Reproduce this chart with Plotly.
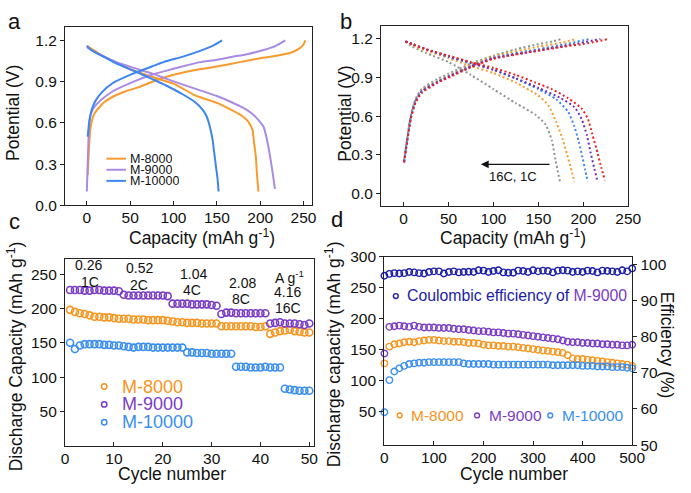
import plotly.graph_objects as go

W, H = 691, 493
FONT = "Liberation Sans, Arial, sans-serif"

# ---------------- Panel a data ----------------
a8000_chg_x = [1, 2, 3, 4, 6, 9, 14, 20, 30, 45, 60, 80, 100, 125, 150, 175, 200, 220, 235, 245, 250, 252]
a8000_chg_y = [0.22, 0.35, 0.47, 0.55, 0.62, 0.67, 0.71, 0.75, 0.79, 0.83, 0.86, 0.91, 0.95, 0.985, 1.01, 1.04, 1.07, 1.09, 1.11, 1.14, 1.17, 1.20]
a8000_dis_x = [0, 5, 15, 30, 50, 75, 100, 125, 150, 165, 178, 186, 191, 193, 195, 196, 197, 198]
a8000_dis_y = [1.16, 1.14, 1.10, 1.05, 0.99, 0.935, 0.885, 0.80, 0.745, 0.70, 0.655, 0.61, 0.55, 0.45, 0.35, 0.25, 0.17, 0.10]
a9000_chg_x = [0, 1, 2, 3, 5, 8, 12, 17, 30, 54, 75, 92, 110, 129, 150, 167, 185, 204, 218, 229]
a9000_chg_y = [0.10, 0.30, 0.50, 0.60, 0.67, 0.71, 0.74, 0.77, 0.83, 0.90, 0.95, 0.98, 1.01, 1.04, 1.06, 1.08, 1.10, 1.13, 1.16, 1.20]
a9000_dis_x = [0, 5, 17, 35, 54, 75, 92, 110, 129, 150, 167, 180, 190, 198, 204, 208, 211, 214, 217]
a9000_dis_y = [1.15, 1.13, 1.09, 1.04, 1.00, 0.96, 0.92, 0.88, 0.84, 0.795, 0.75, 0.71, 0.67, 0.62, 0.57, 0.47, 0.37, 0.25, 0.12]
a10000_chg_x = [1, 3, 5, 7, 10, 17, 30, 54, 75, 92, 110, 129, 145, 156]
a10000_chg_y = [0.50, 0.62, 0.68, 0.72, 0.76, 0.82, 0.89, 0.96, 1.01, 1.05, 1.08, 1.12, 1.16, 1.20]
a10000_dis_x = [0, 5, 17, 35, 54, 75, 92, 110, 125, 133, 138, 142, 145, 147, 149, 151, 152]
a10000_dis_y = [1.16, 1.13, 1.09, 1.03, 0.98, 0.92, 0.87, 0.81, 0.75, 0.70, 0.65, 0.57, 0.48, 0.38, 0.28, 0.18, 0.10]

# ---------------- Panel b data (rates 1C..16C) ----------------
b_red_chg_x = [0.5, 4, 8, 13, 20, 38, 50, 75, 100, 147, 183, 200, 228]
b_red_chg_y = [0.24, 0.41, 0.58, 0.70, 0.78, 0.86, 0.90, 0.98, 1.045, 1.105, 1.145, 1.16, 1.20]
b_red_dis_x = [2, 10, 25, 50, 75, 100, 125, 147, 165, 183, 198, 205, 210, 216, 220, 224]
b_red_dis_y = [1.18, 1.16, 1.12, 1.07, 1.02, 0.975, 0.92, 0.86, 0.81, 0.74, 0.66, 0.58, 0.46, 0.31, 0.20, 0.10]
b_pur_chg_x = [0.5, 4, 8, 13, 20, 38, 50, 75, 100, 150, 190, 219]
b_pur_chg_y = [0.24, 0.41, 0.585, 0.71, 0.79, 0.865, 0.905, 0.985, 1.05, 1.11, 1.16, 1.20]
b_pur_dis_x = [2, 10, 25, 50, 75, 100, 125, 150, 175, 190, 198, 204, 208, 212, 216]
b_pur_dis_y = [1.18, 1.16, 1.12, 1.065, 1.015, 0.96, 0.895, 0.82, 0.74, 0.67, 0.58, 0.45, 0.32, 0.20, 0.09]
b_blu_chg_x = [0.5, 4, 8, 13, 20, 38, 50, 75, 100, 150, 180, 207]
b_blu_chg_y = [0.25, 0.42, 0.59, 0.715, 0.795, 0.87, 0.91, 0.99, 1.055, 1.12, 1.16, 1.20]
b_blu_dis_x = [2, 10, 25, 50, 75, 100, 125, 150, 170, 183, 190, 195, 199, 202, 205]
b_blu_dis_y = [1.18, 1.16, 1.12, 1.06, 1.01, 0.96, 0.89, 0.81, 0.73, 0.635, 0.52, 0.40, 0.28, 0.18, 0.09]
b_ora_chg_x = [0.5, 4, 8, 13, 20, 38, 50, 75, 100, 150, 175, 192]
b_ora_chg_y = [0.25, 0.42, 0.60, 0.72, 0.80, 0.875, 0.915, 1.0, 1.065, 1.14, 1.17, 1.20]
b_ora_dis_x = [2, 10, 25, 50, 75, 100, 125, 150, 161, 170, 177, 182, 186, 190]
b_ora_dis_y = [1.18, 1.15, 1.11, 1.05, 0.99, 0.935, 0.86, 0.76, 0.685, 0.55, 0.42, 0.30, 0.20, 0.09]
b_gry_chg_x = [0.5, 4, 8, 13, 20, 38, 50, 75, 100, 125, 150, 165, 176]
b_gry_chg_y = [0.26, 0.43, 0.61, 0.73, 0.81, 0.89, 0.93, 1.01, 1.07, 1.12, 1.16, 1.18, 1.20]
b_gry_dis_x = [2, 10, 25, 50, 75, 100, 125, 147, 158, 165, 169, 174]
b_gry_dis_y = [1.18, 1.14, 1.09, 1.02, 0.92, 0.81, 0.70, 0.61, 0.535, 0.41, 0.26, 0.09]

# ---------------- Panel c data ----------------
c_cycles = list(range(1, 51))
c_m8000 = [198, 195, 193, 192, 190, 188, 188, 187, 187, 186, 185,
           185, 185, 184, 184, 184, 183, 183, 183, 183, 182,
           181, 180, 180, 179, 179, 179, 178, 178, 178, 178,
           174, 174, 174, 174, 174, 174, 174, 173, 173, 174,
           163, 165, 167, 168, 169, 167, 166, 165, 165]
c_m9000 = [227, 227, 227, 226, 226, 227, 227, 226, 226, 226, 225,
           220, 219, 219, 219, 219, 219, 219, 219, 219, 218,
           207, 207, 207, 207, 206, 206, 206, 206, 205, 204,
           192, 194, 194, 193, 193, 193, 193, 193, 193, 193,
           178, 179, 180, 178, 178, 178, 177, 176, 178]
c_m10000 = [150, 141, 146, 148, 148, 148, 148, 147, 147, 146, 146,
            145, 144, 143, 144, 144, 144, 143, 143, 143, 143,
            143, 143, 143, 136, 136, 135, 135, 135, 134, 134,
            134, 134, 134, 115, 115, 115, 114, 114, 114, 115,
            114, 114, 114, 83, 82, 81, 80, 80, 80]
c_rate_top = ["0.26", "0.52", "1.04", "2.08", "A g<sup>-1</sup>"]
c_rate_mid = ["1C", "2C", "4C", "8C", "4.16"]
c_rate_extra = ["16C"]

# ---------------- Panel d data ----------------
d_cycles = list(range(0, 501, 10))
d_ce = [96.8, 97.3, 97.5, 97.4, 97.5, 97.8, 97.7, 97.5, 97.4, 97.8, 98.0, 98.0, 97.4, 97.8, 98.0, 97.7,
        97.8, 97.9, 97.8, 98.3, 98.2, 97.8, 98.1, 98.3, 97.7, 97.6, 97.6, 98.2, 98.1, 97.8, 98.3, 98.0,
        98.2, 98.1, 97.7, 98.2, 98.3, 98.2, 97.8, 98.0, 97.8, 98.2, 98.1, 97.7, 98.2, 98.1, 98.0, 97.8,
        98.3, 98.0, 98.8]
d_m9000 = [144, 187, 188, 189, 188, 187, 189, 187, 186, 186, 186, 185, 185, 185, 184, 183, 183, 182,
           181, 180, 180, 179, 178, 178, 177, 176, 176, 175, 174, 173, 172, 171, 170, 169, 168, 167,
           165, 163, 162, 162, 161, 161, 160, 160, 159, 159, 158, 158, 157, 157, 158]
d_m8000 = [128, 155, 159, 160, 162, 163, 162, 164, 165, 166, 166, 165, 164, 164, 163, 163, 162, 161,
           161, 160, 158, 157, 157, 156, 156, 155, 155, 154, 153, 152, 151, 150, 149, 148, 147, 146,
           145, 141, 136, 135, 135, 134, 133, 132, 131, 130, 129, 128, 127, 126, 124]
d_m10000 = [49, 101, 115, 120, 124, 127, 128, 129, 129, 130, 130, 130, 130, 130, 130, 130, 128, 127,
            127, 127, 127, 127, 126, 126, 126, 126, 126, 126, 126, 126, 126, 126, 126, 126, 125, 125,
            125, 125, 125, 125, 124, 124, 124, 123, 123, 123, 122, 122, 122, 121, 120]

# colours
ORA, PUR_L, BLU = "#F89A2C", "#A98BE3", "#3D86F2"
RED, PUR_D, GRY = "#E8231F", "#6B2FBF", "#8C9494"
C_ORA, C_PUR, C_BLU = "#F7941D", "#7A3CC6", "#3A8EF0"
CE_COL = "#1C1CAA"

def px(x):
    return x / W

def py(y):
    return 1 - y / H

fig = go.Figure()

# panel a
for xs, ys, col in [(a8000_chg_x, a8000_chg_y, ORA), (a8000_dis_x, a8000_dis_y, ORA),
                    (a9000_chg_x, a9000_chg_y, PUR_L), (a9000_dis_x, a9000_dis_y, PUR_L),
                    (a10000_chg_x, a10000_chg_y, BLU), (a10000_dis_x, a10000_dis_y, BLU)]:
    fig.add_trace(go.Scatter(x=xs, y=ys, mode="lines", line=dict(color=col, width=2, shape="spline", smoothing=0.6),
                             xaxis="x", yaxis="y", showlegend=False, hoverinfo="skip"))

# panel b
for xs, ys, col in [(b_gry_chg_x, b_gry_chg_y, GRY), (b_gry_dis_x, b_gry_dis_y, GRY),
                    (b_ora_chg_x, b_ora_chg_y, ORA), (b_ora_dis_x, b_ora_dis_y, ORA),
                    (b_blu_chg_x, b_blu_chg_y, BLU), (b_blu_dis_x, b_blu_dis_y, BLU),
                    (b_pur_chg_x, b_pur_chg_y, PUR_D), (b_pur_dis_x, b_pur_dis_y, PUR_D),
                    (b_red_chg_x, b_red_chg_y, RED), (b_red_dis_x, b_red_dis_y, RED)]:
    fig.add_trace(go.Scatter(x=xs, y=ys, mode="lines", line=dict(color=col, width=2, dash="2px,2.5px", shape="spline", smoothing=0.6),
                             xaxis="x2", yaxis="y2", showlegend=False, hoverinfo="skip"))

# panel c
for ys, col in [(c_m8000, C_ORA), (c_m9000, C_PUR), (c_m10000, C_BLU)]:
    fig.add_trace(go.Scatter(x=c_cycles, y=ys, mode="markers",
                             marker=dict(symbol="circle-open", size=7, color=col, line=dict(width=1.6, color=col)),
                             xaxis="x3", yaxis="y3", showlegend=False, cliponaxis=False, hoverinfo="skip"))

# panel d
for ys, col in [(d_m8000, C_ORA), (d_m9000, C_PUR), (d_m10000, C_BLU)]:
    fig.add_trace(go.Scatter(x=d_cycles, y=ys, mode="markers",
                             marker=dict(symbol="circle-open", size=6.5, color=col, line=dict(width=1.4, color=col)),
                             xaxis="x4", yaxis="y4", showlegend=False, cliponaxis=False, hoverinfo="skip"))
fig.add_trace(go.Scatter(x=d_cycles, y=d_ce, mode="markers",
                         marker=dict(symbol="circle-open", size=6.5, color=CE_COL, line=dict(width=1.4, color=CE_COL)),
                         xaxis="x4", yaxis="y5", showlegend=False, cliponaxis=False, hoverinfo="skip"))

axis_common = dict(showline=True, linecolor="#222", linewidth=1.4, mirror=True, showgrid=False, zeroline=False,
                   tickfont=dict(family=FONT, size=15.5, color="#111"), ticklen=4, tickwidth=1.2, tickcolor="#222")
xax = dict(axis_common, ticks="inside", ticklabelstandoff=-2)
yax = dict(axis_common, ticks="outside")

fig.update_layout(
    width=W, height=H, autosize=False, margin=dict(l=0, r=0, t=0, b=0),
    paper_bgcolor="white", plot_bgcolor="white", font=dict(family=FONT, color="#111"),
    xaxis=dict(xax, domain=[px(62.7), px(316)], range=[-25, 260], tickvals=[0, 50, 100, 150, 200, 250], anchor="y"),
    yaxis=dict(yax, domain=[py(203.3), py(18.3)], range=[0, 1.3], tickvals=[0, 0.3, 0.6, 0.9, 1.2], tickformat=".1f", anchor="x"),
    xaxis2=dict(xax, domain=[px(386.7), px(640)], range=[-25, 250], tickvals=[0, 50, 100, 150, 200, 250], anchor="y2"),
    yaxis2=dict(yax, domain=[py(204.3), py(17.7)], range=[-0.1, 1.3], tickvals=[0, 0.3, 0.6, 0.9, 1.2], tickformat=".1f", anchor="x2"),
    xaxis3=dict(xax, domain=[px(62.7), px(318)], range=[0, 51], tickvals=[0, 10, 20, 30, 40, 50], anchor="y3"),
    yaxis3=dict(yax, domain=[py(452.3), py(259)], range=[0, 272], tickvals=[50, 100, 150, 200, 250], anchor="x3"),
    xaxis4=dict(xax, domain=[px(390), px(644)], range=[0, 500], tickvals=[0, 100, 200, 300, 400, 500], anchor="y4"),
    yaxis4=dict(yax, domain=[py(451.7), py(256.7)], range=[-4, 300], tickvals=[50, 100, 150, 200, 250, 300], anchor="x4"),
    yaxis5=dict(yax, domain=[py(451.7), py(256.7)], range=[50, 102], tickvals=[50, 60, 70, 80, 90, 100],
                anchor="x4", overlaying="y4", side="right", mirror=False),
)

ann = []
def txt(text, x, y, size, color="#111", angle=0, xanchor="center", height=None):
    d = dict(text=text, x=px(x), y=py(y), xref="paper", yref="paper", showarrow=False,
             font=dict(family=FONT, size=size, color=color), textangle=angle,
             xanchor=xanchor, yanchor="middle")
    if height is not None:
        d["height"] = height
        d["borderpad"] = 0
        d["valign"] = "middle"
    ann.append(d)

# panel letters
txt("a", 11, 13, 22)
txt("b", 351, 13, 22)
txt("c", 11, 220, 22)
txt("d", 341, 218, 22)

# axis titles
cap = "Capacity (mAh g<sup>-1</sup>)"
txt(cap, 203, 236, 17.5)
txt(cap, 522, 236, 17.5)
txt("Potential (V)", 10, 108, 17.5, angle=-90)
txt("Potential (V)", 350, 108, 17.5, angle=-90)
txt("Cycle number", 172, 481.5, 17.5)
txt("Cycle number", 523, 481.5, 17.5)
txt("Discharge Capacity (mAh g<sup>-1</sup>)", 11, 360, 17.5, angle=-90)
txt("Discharge capacity (mAh g<sup>-1</sup>)", 337, 358, 17.5, angle=-90)
txt("Efficiency (%)", 680, 348, 17.5, angle=90)

# panel a legend
shapes = []
for yy, col, name in [(155, ORA, "M-8000"), (166.5, PUR_L, "M-9000"), (178, BLU, "M-10000")]:
    shapes.append(dict(type="line", xref="paper", yref="paper", x0=px(105), x1=px(125), y0=py(yy), y1=py(yy),
                       line=dict(color=col, width=2)))
    txt(name, 128, yy, 12.5, xanchor="left", height=11)

# panel c legend
for yy, col, name in [(391, C_ORA, "M-8000"), (409.5, C_PUR, "M-9000"), (428, C_BLU, "M-10000")]:
    shapes.append(dict(type="circle", xref="paper", yref="paper", x0=px(100), x1=px(105.5), y0=py(yy + 2.75), y1=py(yy - 2.75),
                       line=dict(color=col, width=1.5)))
    txt(name, 120, yy, 18, color=col, xanchor="left", height=18)

# panel d legends
for xx, col, name in [(405.7, C_ORA, "M-8000"), (485, C_PUR, "M-9000"), (560, C_BLU, "M-10000")]:
    shapes.append(dict(type="circle", xref="paper", yref="paper", x0=px(xx - 2.5), x1=px(xx + 2.5), y0=py(423.5), y1=py(418.5),
                       line=dict(color=col, width=1.4)))
    txt(name, xx + 10, 421, 15.5, color=col, xanchor="left")
shapes.append(dict(type="circle", xref="paper", yref="paper", x0=px(399.2), x1=px(404.2), y0=py(299.8), y1=py(294.8),
                   line=dict(color=CE_COL, width=1.4)))
txt("Coulombic efficiency of <span style='color:%s'>M-9000</span>" % C_PUR, 411, 297, 15.8, color=CE_COL, xanchor="left")

# panel c rate labels
for xx, yy, lab in zip([86.7, 139, 194, 244.5, 293], [265, 268, 274, 284, 278], c_rate_top):
    txt(lab, xx, yy, 14)
for xx, yy, lab in zip([88.3, 138, 193, 243, 291], [283, 286, 291.5, 300, 293.5], c_rate_mid):
    txt(lab, xx, yy, 14)
txt(c_rate_extra[0], 291, 309.5, 14)

# panel b arrow
ann.append(dict(x=86, y=0.226, xref="x2", yref="y2", ax=164, ay=0.226, axref="x2", ayref="y2",
                showarrow=True, arrowhead=2, arrowsize=1.2, arrowwidth=1.3, arrowcolor="#111", text=""))
ann.append(dict(text="16C, 1C", x=122, y=0.13, xref="x2", yref="y2", showarrow=False,
                font=dict(family=FONT, size=13, color="#111")))

fig.update_layout(annotations=ann, shapes=shapes)
fig.write_html("out.html")
